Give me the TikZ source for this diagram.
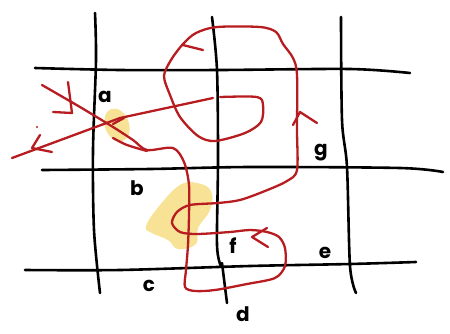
\documentclass[tikz,border=0pt]{standalone}
\usepackage{fontspec}
\setmainfont{Poppins}
\definecolor{inkred}{RGB}{183,28,32}
\definecolor{hilite}{RGB}{248,226,150}
\tikzset{
  gridline/.style={black,line width=2.6pt,line cap=round,line join=round},
  redline/.style={inkred,line width=2.3pt,line cap=round,line join=round},
  lbl/.style={font=\fontsize{20}{20}\selectfont\bfseries,inner sep=0pt}
}
\begin{document}
\begin{tikzpicture}[x=1pt,y=-1pt]
\useasboundingbox (0,0) rectangle (450,333);
% yellow highlights
\fill[hilite,rotate around={-70:(117,125)}] (117,125) ellipse (17pt and 12pt);
\fill[hilite] plot[smooth cycle,tension=0.7] coordinates {(146,226) (160,205) (180,185) (197,183) (211,191) (210,210) (198,228) (196,244) (178,249) (168,240) (152,233)};
% grid
\draw[gridline] plot[smooth] coordinates {(35,68) (120,70) (220,70) (350,69) (410,73)};
\draw[gridline] plot[smooth] coordinates {(42,170) (150,169) (250,167) (400,168) (443,172)};
\draw[gridline] plot[smooth] coordinates {(25,270) (120,270) (250,266) (350,264) (416,262)};
\draw[gridline] plot[smooth] coordinates {(95,13) (96,60) (93,150) (94,230) (100,293)};
\draw[gridline] plot[smooth] coordinates {(212,17) (217,70) (218,160) (217,245) (221,266)};
\draw[gridline] (222,263) -- (227,303);
\draw[gridline] plot[smooth] coordinates {(341,17) (342,120) (347,167) (350,266) (356,293)};
% labels
\node[lbl] (la) at (105,97) {a};
\node[lbl] (lb) at (137,188) {b};
\node[lbl] (lc) at (149,286) {c};
\node[lbl] (ld) at (243,314) {d};
\node[lbl] (le) at (325,253) {e};
\node[lbl] (lf) at (233,246) {f};
\node[lbl] (lg) at (321,153) {g};
% red path
\draw[redline] plot[smooth,tension=0.5] coordinates {
 (42,85) (80,107) (113,127) (133,140) (147,150) (173,148) (184,162) (189,185)
 (189,215) (188,245) (186,270) (185,287) (195,291) (215,290) (247,284) (275,278)
 (285,266) (285,248) (279,237) (267,232) (250,230) (230,232) (197,234) (180,232)
 (172,223) (177,212) (190,205) (218,203) (240,200) (265,191) (287,181) (297,170)
 (297,130) (297,75) (293,58) (283,44) (276,32) (260,27) (217,27) (196,33)
 (183,44) (171,60) (164,76) (170,95) (180,117) (198,136) (215,141) (245,133)
 (261,122) (263,105) (257,97) (220,97)};
\draw[redline] (213,98) -- (120,118) -- (12,158);
\draw[redline] plot[smooth] coordinates {(113,138) (127,145) (147,151)};
% arrowheads
\draw[redline] (53,112) -- (72,113) -- (68,82);
\draw[redline] (52,152) -- (32,148) -- (40,135);
\fill[inkred] (37,127) circle (1.2pt);
\draw[redline] (113,124) -- (124,118);
\draw[redline] (203,50) -- (183,45);
\draw[redline] (293,125) -- (300,112) -- (317,123);
\draw[redline] (267,228) -- (252,237) -- (268,247);
\end{tikzpicture}
\end{document}
